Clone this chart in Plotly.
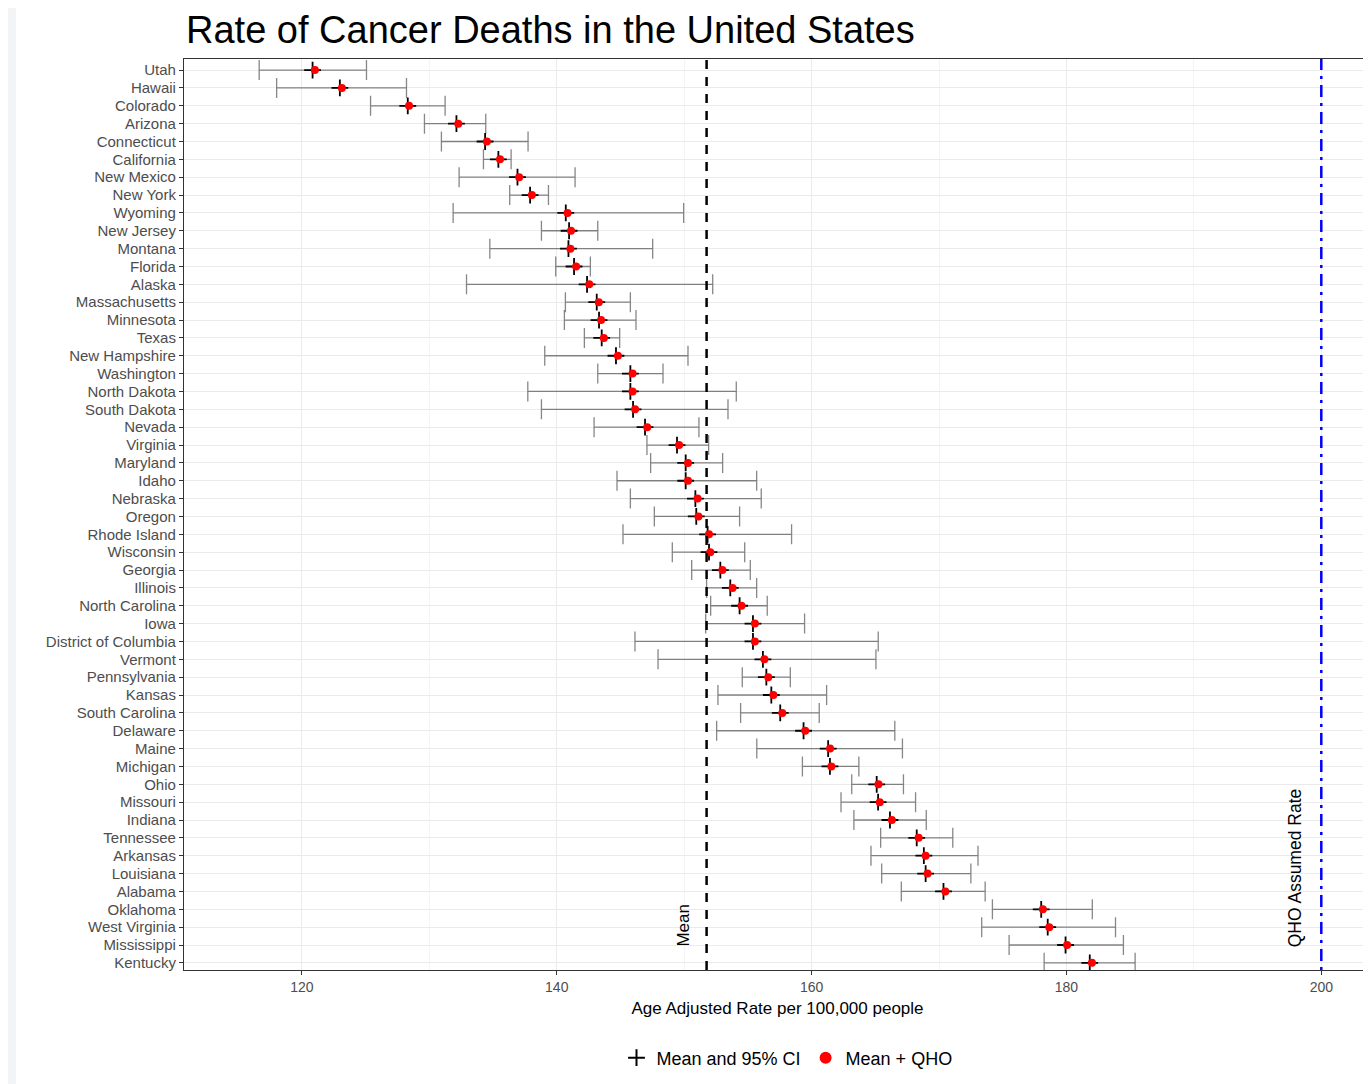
import plotly.graph_objects as go

states = ["Utah", "Hawaii", "Colorado", "Arizona", "Connecticut", "California", "New Mexico",
          "New York", "Wyoming", "New Jersey", "Montana", "Florida", "Alaska", "Massachusetts",
          "Minnesota", "Texas", "New Hampshire", "Washington", "North Dakota", "South Dakota",
          "Nevada", "Virginia", "Maryland", "Idaho", "Nebraska", "Oregon", "Rhode Island",
          "Wisconsin", "Georgia", "Illinois", "North Carolina", "Iowa", "District of Columbia",
          "Vermont", "Pennsylvania", "Kansas", "South Carolina", "Delaware", "Maine", "Michigan",
          "Ohio", "Missouri", "Indiana", "Tennessee", "Arkansas", "Louisiana", "Alabama",
          "Oklahoma", "West Virginia", "Mississippi", "Kentucky"]

mean_vals = [120.84, 122.98, 128.31, 132.13, 134.38, 135.42, 136.92, 137.91, 140.71, 140.97,
             140.92, 141.36, 142.38, 143.14, 143.32, 143.53, 144.65, 145.78, 145.78, 145.99,
             146.93, 149.44, 150.12, 150.12, 150.88, 150.95, 151.84, 151.95, 152.84, 153.62,
             154.35, 155.40, 155.40, 156.18, 156.45, 156.84, 157.54, 159.37, 161.30, 161.44,
             165.11, 165.22, 166.15, 168.25, 168.81, 168.95, 170.35, 178.02, 178.53, 179.93,
             181.83]

lower_ci = [116.65, 118.02, 125.39, 129.62, 130.95, 134.25, 132.34, 136.31, 131.87, 138.80,
            134.75, 139.92, 132.92, 140.68, 140.60, 142.17, 139.06, 143.22, 137.73, 138.80,
            142.93, 147.08, 147.37, 144.73, 145.78, 147.66, 145.20, 149.07, 150.59, 151.76,
            152.08, 151.69, 146.14, 147.95, 154.56, 152.65, 154.43, 152.55, 155.70, 159.28,
            163.15, 162.31, 163.32, 165.42, 164.66, 165.50, 167.04, 174.19, 173.35, 175.50,
            178.25]

upper_ci = [125.07, 128.21, 131.24, 134.43, 137.75, 136.42, 141.44, 139.35, 149.96, 143.22,
            147.53, 142.64, 152.24, 145.78, 146.22, 144.94, 150.30, 148.34, 154.09, 153.44,
            151.16, 151.92, 153.02, 155.69, 156.05, 154.35, 158.43, 154.75, 155.19, 155.69,
            156.52, 159.45, 165.23, 165.05, 158.33, 161.18, 160.60, 166.53, 167.13, 163.71,
            167.21, 168.16, 169.00, 171.08, 173.06, 172.50, 173.62, 182.03, 183.85, 184.47,
            185.39]

qho_vals = [121.02, 123.14, 128.41, 132.27, 134.52, 135.55, 137.05, 138.05, 140.85, 141.12,
            141.07, 141.52, 142.55, 143.30, 143.48, 143.70, 144.80, 145.95, 145.95, 146.15,
            147.10, 149.60, 150.30, 150.30, 151.05, 151.12, 151.95, 152.05, 153.00, 153.80,
            154.50, 155.55, 155.55, 156.30, 156.60, 157.00, 157.70, 159.50, 161.45, 161.55,
            165.25, 165.35, 166.30, 168.40, 168.95, 169.10, 170.50, 178.15, 178.65, 180.05,
            182.00]

overall_mean = 151.76
qho_rate = 200
x_ticks = [120, 140, 160, 180, 200]

err_plus = [u - m for u, m in zip(upper_ci, mean_vals)]
err_minus = [m - l for m, l in zip(mean_vals, lower_ci)]

FONT = "Liberation Sans, Arial, sans-serif"

# the page body adds an 8px offset, so the figure is sized/margined to compensate
OFF = 8
W, H = 1371 - OFF, 1084 - OFF
ML, MT, MB = 184 - OFF, 59 - OFF, 114
PW, PH = W - ML, H - MT - MB


def py(pix):
    """screen pixel y -> paper coordinate"""
    return (970 - pix) / PH


fig = go.Figure()
fig.add_trace(go.Scatter(
    x=mean_vals, y=states, mode="markers", name="Mean and 95% CI",
    marker=dict(symbol="cross-thin", size=12, color="black",
                line=dict(color="black", width=1.8)),
    error_x=dict(type="data", array=err_plus, arrayminus=err_minus,
                 color="rgba(70,70,70,0.65)", thickness=1.3, width=10),
))
fig.add_trace(go.Scatter(
    x=qho_vals, y=states, mode="markers", name="Mean + QHO",
    marker=dict(symbol="circle", size=8, color="red"),
))

fig.add_shape(type="line", xref="x", yref="paper", x0=overall_mean, x1=overall_mean,
              y0=0, y1=1, line=dict(color="black", width=2.5, dash="9px,8px"))
fig.add_shape(type="line", xref="x", yref="paper", x0=qho_rate, x1=qho_rate,
              y0=0, y1=1, line=dict(color="blue", width=2.5, dash="3px,6px,12px,6px"))

# white panel over light grey page frame
fig.add_shape(type="rect", xref="paper", yref="paper", layer="below",
              x0=-(184 - 16) / PW, x1=1.05, y0=py(1100), y1=py(5),
              fillcolor="white", line=dict(width=0))

fig.add_annotation(x=overall_mean, xref="x", y=py(925), yref="paper", text="Mean",
                   textangle=-90, showarrow=False, xshift=-24,
                   xanchor="center", yanchor="middle",
                   font=dict(size=17, color="black", family=FONT))
fig.add_annotation(x=qho_rate, xref="x", y=py(868), yref="paper", text="QHO Assumed Rate",
                   textangle=-90, showarrow=False, xshift=-26,
                   xanchor="center", yanchor="middle",
                   font=dict(size=17.5, color="black", family=FONT))

fig.update_layout(
    width=W, height=H,
    margin=dict(l=ML, r=0, t=MT, b=MB),
    paper_bgcolor="#f3f4f6",
    plot_bgcolor="white",
    font=dict(family=FONT),
    title=dict(text="Rate of Cancer Deaths in the United States",
               x=(186 - OFF) / W, xanchor="left", y=1 - (30 - OFF) / H, yanchor="middle",
               font=dict(size=38, color="black", family=FONT)),
    showlegend=True,
    legend=dict(orientation="h", x=(787 - 184) / PW, xanchor="center", y=py(1058),
                yanchor="middle",
                font=dict(size=18, color="black", family=FONT), bgcolor="rgba(0,0,0,0)",
                itemsizing="constant"),
    xaxis=dict(range=[110.75, 203.9], tickvals=x_ticks, ticktext=[str(t) for t in x_ticks],
               showgrid=True, gridcolor="#ebebeb", gridwidth=1,
               minor=dict(dtick=10, tick0=110, showgrid=True, gridcolor="#f4f4f4", gridwidth=1),
               zeroline=False, showline=True, linecolor="#333333", linewidth=1.2, mirror=True,
               ticks="outside", ticklen=4, tickcolor="#333333",
               tickfont=dict(size=14, color="#4d4d4d", family=FONT),
               title=dict(text="Age Adjusted Rate per 100,000 people", standoff=8,
                          font=dict(size=17, color="black", family=FONT))),
    yaxis=dict(type="category", categoryorder="array", categoryarray=states,
               tickmode="array", tickvals=states, ticktext=states,
               range=[50.4, -0.62], showgrid=True, gridcolor="#ebebeb", gridwidth=1,
               zeroline=False, showline=True, linecolor="#333333", linewidth=1.2, mirror=True,
               ticks="outside", ticklen=4, tickcolor="#333333",
               tickfont=dict(size=15, color="#4d4d4d", family=FONT)),
)

fig.write_html("out.html")
